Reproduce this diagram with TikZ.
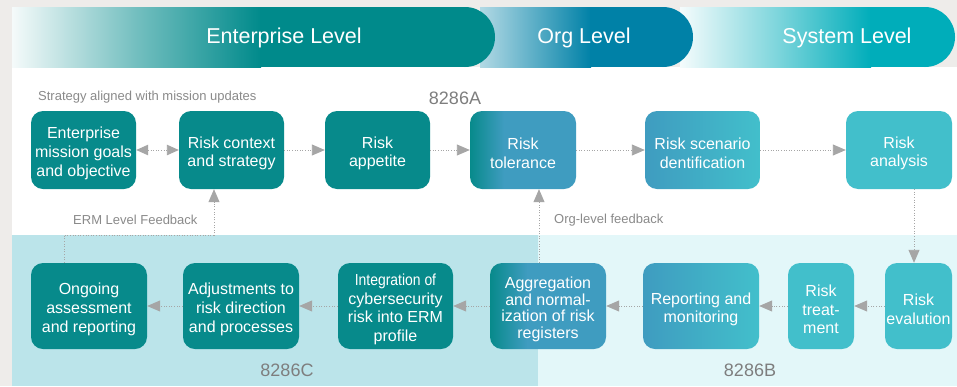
\documentclass[tikz,border=0pt]{standalone}
\usepackage{fontspec}
\setmainfont{Liberation Sans}
\usetikzlibrary{arrows.meta}

\definecolor{marble}{HTML}{EEECEA}
\definecolor{entc}{HTML}{008A8B}
\definecolor{orgc}{HTML}{0081A7}
\definecolor{sysc}{HTML}{00ADBA}
\definecolor{boxteal}{HTML}{078A8B}
\definecolor{boxblue}{HTML}{3F9CC0}
\definecolor{boxcyan}{HTML}{42BFCB}
\definecolor{lowleft}{HTML}{BBE4EA}
\definecolor{lowright}{HTML}{E3F7F9}
\definecolor{arrowgray}{HTML}{A6A6A6}
\definecolor{labelgray}{HTML}{8A8A8A}
\definecolor{codegray}{HTML}{7E7E7E}

% teal edge fading quickly into blue
\pgfdeclarehorizontalshading{tealblue}{100bp}{color(0bp)=(boxteal); color(25bp)=(boxteal); color(41bp)=(boxblue); color(100bp)=(boxblue)}

\newcommand{\boxfont}{\fontsize{16}{18.7}\selectfont}
\newcommand{\titlefont}{\fontsize{21.5}{24}\selectfont}
\newcommand{\notefont}{\fontsize{13}{15}\selectfont}
\newcommand{\codefont}{\fontsize{18}{20}\selectfont}
% extra head room on the first line lowers the text block in its box
\newcommand{\hr}{\rule{0pt}{18.5pt}}

\begin{document}
\begin{tikzpicture}[x=1pt,y=-1pt,
  box/.style={rounded corners=12pt, minimum height=78pt, align=center,
    text=white, font=\boxfont, inner sep=0pt},
  lowbox/.style={box, minimum height=86pt},
  tealbox/.style={fill=boxteal},
  mixbox/.style={shading=tealblue},
  fadebox/.style={left color=boxblue, right color=boxcyan},
  cyanbox/.style={fill=boxcyan},
  flow/.style={draw=arrowgray, line width=0.9pt, dash pattern=on 1pt off 1.6pt,
    -{Triangle[length=13pt,width=11pt]}},
  twoway/.style={flow, {Triangle[length=12pt,width=10.5pt]}-{Triangle[length=12pt,width=10.5pt]}},
  title/.style={text=white, font=\titlefont, inner sep=0pt},
  note/.style={text=labelgray, font=\notefont, inner sep=0pt, anchor=west},
  code/.style={text=codegray, font=\codefont, inner sep=0pt}
]
\useasboundingbox (0,0) rectangle (957,386);

% page background and panels
\fill[marble] (0,0) rectangle (957,386);
\fill[white] (12,67) rectangle (957,235);
\fill[lowleft] (12,235) rectangle (538,386);
\fill[lowright] (538,235) rectangle (957,386);

% level banners, drawn back to front
\shade[left color=sysc!4, right color=sysc, middle color=sysc!50] (680,7) rectangle (871,67);
\fill[sysc] (870,7) rectangle (925,67);
\fill[sysc] (925,37) circle (30pt);

\shade[left color=orgc!30, right color=orgc] (480,7) rectangle (591,67);
\fill[orgc] (590,7) rectangle (663,67);
\fill[orgc] (663,37) circle (30pt);

\shade[left color=entc!4, right color=entc, middle color=entc!55] (12,7) rectangle (261,67);
\fill[entc] (260,7) rectangle (465,67);
\fill[entc] (465,37) circle (30pt);

\node[title] (tEnt) at (284,38) {Enterprise Level};
\node[title] (tOrg) at (584,38) {Org Level};
\node[title] (tSys) at (847,38) {System Level};

% top row
\node[box, tealbox, minimum width=105pt] (e1) at (83.5,150) {\hr Enterprise\\mission goals\\and objective};
\node[box, tealbox, minimum width=105pt] (e2) at (231.5,150) {\hr Risk context\\and strategy};
\node[box, tealbox, minimum width=105pt] (e3) at (377.5,150) {\hr Risk\\appetite};
\node[box, mixbox, minimum width=106pt] (o1) at (523,150) {\hr Risk\\tolerance};
\node[box, fadebox, minimum width=115pt] (s1) at (702.5,150) {\hr Risk scenario\\dentification};
\node[box, cyanbox, minimum width=106pt] (s2) at (899,150) {\hr Risk\\analysis};

% bottom row
\node[lowbox, tealbox, minimum width=116pt] (b1) at (89,306) {\hr Ongoing\\assessment\\and reporting};
\node[lowbox, tealbox, minimum width=116pt] (b2) at (241,306) {\hr Adjustments to\\risk direction\\and processes};
\node[lowbox, tealbox, minimum width=115pt] (b3) at (395.5,306) {\hr\scalebox{0.87}[1]{Integration of}\\cybersecurity\\risk into ERM\\profile};
\node[lowbox, mixbox, minimum width=116pt, font=\fontsize{16}{16.4}\selectfont] (b4) at (548,306) {\hr Aggregation\\and normal-\\ization of risk\\registers};
\node[lowbox, fadebox, minimum width=116pt] (b5) at (701,306) {\hr Reporting and\\monitoring};
\node[lowbox, cyanbox, minimum width=66pt] (b6) at (821,306) {\hr Risk\\treat-\\ment};
\node[lowbox, cyanbox, minimum width=67pt] (b7) at (918.5,306) {\hr Risk\\evalution};

% labels
\node[note] (lStrat) at (38,97) {Strategy aligned with mission updates};
\node[note] (lErm) at (73,220) {ERM Level Feedback};
\node[note] (lOrg) at (554,220) {Org-level feedback};
\node[code] (cA) at (455,98) {8286A};
\node[code] (cC) at (287,370) {8286C};
\node[code] (cB) at (750,370) {8286B};

% routing points
\coordinate (ermA) at (64,235);
\coordinate (ermB) at (214,235);
\coordinate (orgX) at (539,0);
\coordinate (sysX) at (914,0);

% connectors
\draw[twoway] (e1) -- (e2);
\draw[flow] (e2) -- (e3);
\draw[flow] (e3) -- (o1);
\draw[flow] (o1) -- (s1);
\draw[flow] (s1) -- (s2);
\draw[flow] (s2.south -| sysX) -- (b7.north -| sysX);
\draw[flow] (b7) -- (b6);
\draw[flow] (b6) -- (b5);
\draw[flow] (b5) -- (b4);
\draw[flow] (b4) -- (b3);
\draw[flow] (b3) -- (b2);
\draw[flow] (b2) -- (b1);
\draw[flow] (b1.north -| ermA) -- (ermA) -- (ermB) -- (e2.south -| ermB);
\draw[flow] (b4.north -| orgX) -- (o1.south -| orgX);
\end{tikzpicture}
\end{document}
